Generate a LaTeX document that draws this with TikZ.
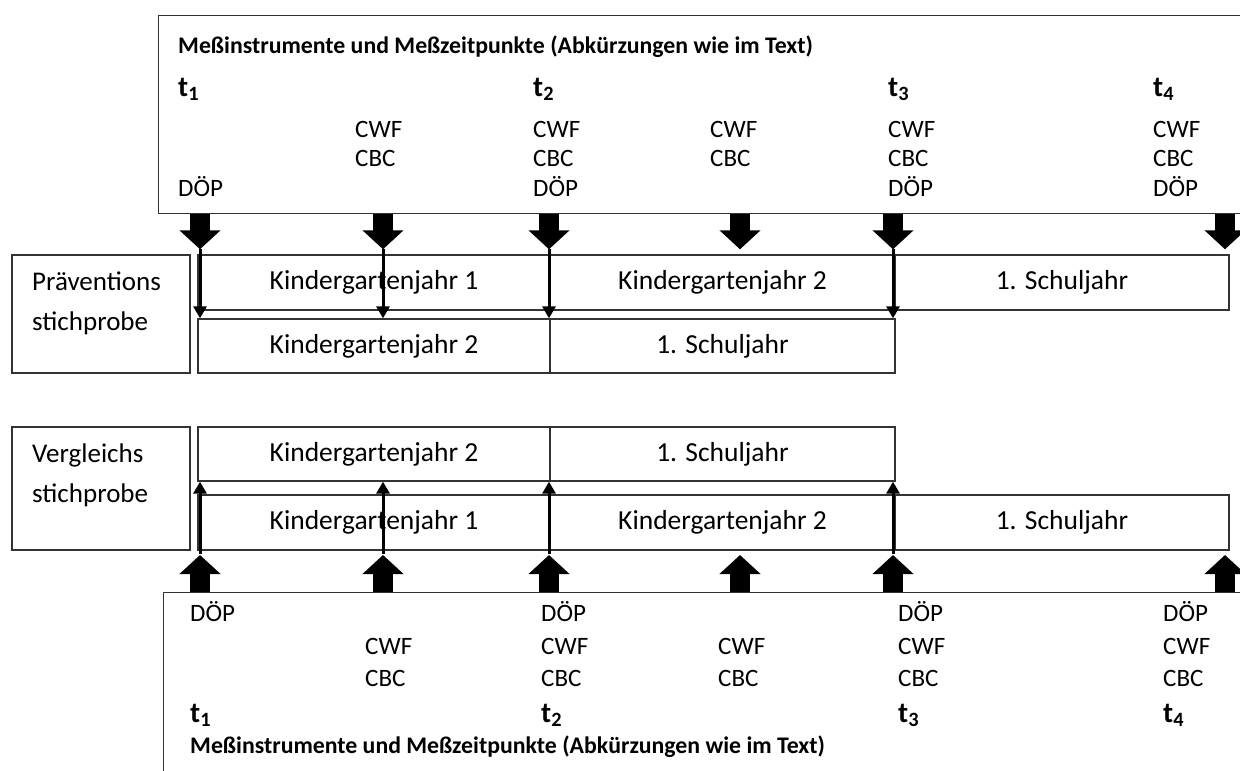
\documentclass[tikz,border=0pt]{standalone}
\usepackage{fontspec}
\setmainfont{Carlito}
\usetikzlibrary{arrows.meta}
\begin{document}
\begin{tikzpicture}[x=1pt,y=-1pt,
  box/.style={draw=black!80,line width=1.3pt},
  cell/.style={box,minimum height=55pt,inner sep=0pt,font=\fontsize{27.5}{33}\selectfont},
  probe/.style={anchor=west,align=left,inner sep=0pt,font=\fontsize{27}{40}\selectfont},
  instr/.style={anchor=base west,inner sep=0pt,font=\fontsize{25}{30}\selectfont},
  tpoint/.style={anchor=base west,inner sep=0pt,font=\fontsize{29}{34}\selectfont\bfseries},
  heading/.style={anchor=base west,inner sep=0pt,font=\fontsize{23.8}{29}\selectfont\bfseries},
  block/.style={line width=20pt,-{Triangle[width=40pt,length=19pt]}},
  thin/.style={line width=3pt,-{Triangle[width=13pt,length=12pt]}}]
\useasboundingbox (0,0) rectangle (1240,771);
% Messzeitpunkte
\foreach \x [count=\i] in {200,383,549,740,893,1225}
  \coordinate (m\i) at (\x,0);

% oberer Kasten
\node[box,anchor=north west,minimum width=1110pt,minimum height=198pt] (topbox) at (158,15) {};
\node[heading] (toptitle) at (178,53) {Meßinstrumente und Meßzeitpunkte (Abkürzungen wie im Text)};
\foreach \x/\n in {178/1,533/2,888/3,1153/4}
  \node[tpoint] (tt\n) at (\x,96) {t\textsubscript{\n}};
\foreach \x [count=\i] in {355,533,710,888,1153}{
  \node[instr] (tcwf\i) at (\x,137) {CWF};
  \node[instr] (tcbc\i) at (\x,166) {CBC};
}
\foreach \x [count=\i] in {178,533,888,1153}
  \node[instr] (tdop\i) at (\x,196) {DÖP};

% Praeventionsstichprobe
\node[box,minimum width=178pt,minimum height=118pt] (praev) at (101,314) {};
\node[probe] (praevtext) at (32,303) {Präventions\\stichprobe};
\node[cell,minimum width=352pt] (pk1) at (374,282.5) {Kindergartenjahr 1};
\node[cell,minimum width=345pt] (pk2) at (722.5,282.5) {Kindergartenjahr 2};
\node[cell,minimum width=334pt] (ps1) at (1062,282.5) {1. Schuljahr};
\node[cell,minimum width=352pt,minimum height=54pt] (pl2) at (374,346) {Kindergartenjahr 2};
\node[cell,minimum width=345pt,minimum height=54pt] (pls) at (722.5,346) {1. Schuljahr};

% Vergleichsstichprobe
\node[box,minimum width=178pt,minimum height=123pt] (vergl) at (101,488.5) {};
\node[probe] (vergltext) at (32,475) {Vergleichs\\stichprobe};
\node[cell,minimum width=352pt,minimum height=54pt] (vu2) at (374,454) {Kindergartenjahr 2};
\node[cell,minimum width=345pt,minimum height=54pt] (vus) at (722.5,454) {1. Schuljahr};
\node[cell,minimum width=352pt] (vk1) at (374,522.5) {Kindergartenjahr 1};
\node[cell,minimum width=345pt] (vk2) at (722.5,522.5) {Kindergartenjahr 2};
\node[cell,minimum width=334pt] (vs1) at (1062,522.5) {1. Schuljahr};

% unterer Kasten
\node[box,anchor=north west,minimum width=1110pt,minimum height=200pt] (botbox) at (163,592) {};
\foreach \x [count=\i] in {190,541,898,1163}
  \node[instr] (bdop\i) at (\x,621) {DÖP};
\foreach \x [count=\i] in {365,541,718,898,1163}{
  \node[instr] (bcwf\i) at (\x,654) {CWF};
  \node[instr] (bcbc\i) at (\x,686) {CBC};
}
\foreach \x/\n in {190/1,541/2,898/3,1163/4}
  \node[tpoint] (bt\n) at (\x,722) {t\textsubscript{\n}};
\node[heading] (bottitle) at (190,753) {Meßinstrumente und Meßzeitpunkte (Abkürzungen wie im Text)};

% Pfeile
\foreach \i in {1,...,6}{
  \draw[block] (topbox.south -| m\i) -- ++(0,35);
  \draw[block] (botbox.north -| m\i) -- ++(0,-37);
}
\foreach \i in {1,2,3,5}{
  \draw[thin] ([yshift=-35pt]topbox.south -| m\i) -- (pl2.north -| m\i);
  \draw[thin] ([yshift=-3pt]vk1.south -| m\i) -- (vu2.south -| m\i);
}
\end{tikzpicture}
\end{document}
